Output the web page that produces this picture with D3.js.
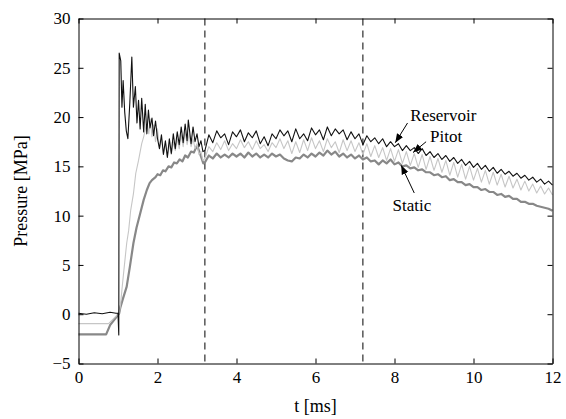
<!DOCTYPE html>
<html>
<head>
<meta charset="utf-8">
<script src="https://cdn.jsdelivr.net/npm/d3@7"></script>
<style>
  body { margin: 0; background: #fff; }
  svg { display: block; }
  svg text { font-family: "Liberation Serif", "Times New Roman", serif; }
</style>
</head>
<body>
<svg id="chart" width="566" height="419"></svg>
<script>
/* Data: [time in ms, pressure in MPa] */
const reservoir = [
  [0,0.1],[0.2,0.0],[0.4,0.15],[0.6,0.05],[0.8,0.2],[0.95,0.1],[1.0,0.1],[1.02,-2.1],[1.03,26.5],
  [1.07,25.7],[1.10,21.0],[1.13,23.7],[1.17,20.5],[1.21,18.6],[1.25,17.8],[1.30,21.5],[1.35,26.1],
  [1.39,21.0],[1.44,23.1],[1.48,19.4],[1.52,21.7],[1.56,18.8],[1.60,21.9],[1.65,18.5],[1.69,21.3],
  [1.73,18.3],[1.77,20.7],[1.81,18.9],[1.86,19.9],[1.90,18.1],[1.95,19.6],[2.00,17.8],[2.05,16.8],
  [2.10,18.2],[2.15,16.2],[2.20,17.6],[2.25,15.9],[2.30,17.8],[2.35,16.3],[2.40,18.3],[2.45,16.8],
  [2.50,18.5],[2.55,17.2],[2.60,19.0],[2.65,17.4],[2.70,19.3],[2.75,17.6],[2.78,19.7],[2.85,17.3],
  [2.90,19.0],[2.95,17.5],[3.00,18.3],[3.05,17.0],[3.10,17.6],[3.15,16.5],
  [3.2,16.6],[3.3,18.2],[3.4,17.4],[3.5,18.6],[3.6,17.9],[3.7,18.3],[3.8,17.2],[3.9,18.5],
  [4.0,18.0],[4.1,18.7],[4.2,17.5],[4.3,18.4],[4.4,17.9],[4.5,18.6],[4.6,17.3],[4.7,18.0],
  [4.8,17.1],[4.9,18.3],[5.0,17.8],[5.1,18.7],[5.2,18.1],[5.3,18.6],[5.4,17.5],[5.5,18.8],
  [5.6,17.8],[5.7,18.3],[5.8,17.6],[5.9,18.9],[6.0,18.2],[6.1,18.7],[6.2,17.7],[6.3,19.0],
  [6.4,18.1],[6.5,18.8],[6.6,18.3],[6.7,18.7],[6.8,17.7],[6.9,18.5],[7.0,17.8],[7.1,18.3],
  [7.2,17.2],[7.3,18.1],[7.4,17.5],[7.5,17.9],[7.6,17.3],[7.7,17.8],[7.8,17.0],[7.9,17.5],
  [8.0,17.0],[8.1,17.3],[8.2,16.6],[8.3,17.1],[8.4,16.6],[8.5,16.9],[8.6,16.3],[8.7,16.8],
  [8.8,16.1],[8.9,16.5],[9.0,15.9],[9.1,16.3],[9.2,15.7],[9.3,16.1],[9.4,15.5],[9.5,15.9],
  [9.6,15.3],[9.7,15.7],[9.8,15.1],[9.9,15.5],[10.0,14.9],[10.1,15.3],[10.2,14.7],[10.3,15.1],
  [10.4,14.5],[10.5,14.9],[10.6,14.3],[10.7,14.7],[10.8,14.2],[10.9,14.5],[11.0,14.0],[11.1,14.3],
  [11.2,13.8],[11.3,14.1],[11.4,13.6],[11.5,13.9],[11.6,13.4],[11.7,13.7],[11.8,13.2],[11.9,13.5],
  [12.0,13.1]
];

const pitot = [
  [0,-0.95],[0.4,-0.95],[0.76,-0.95],[0.9,-0.4],[1.03,0.1],[1.06,0.8],[1.1,2.5],[1.15,4.5],
  [1.22,7.2],[1.27,8.5],[1.32,10.5],[1.39,12.2],[1.45,14.3],[1.52,15.6],[1.60,17.3],[1.65,18.0],
  [1.70,18.9],[1.74,19.4],[1.78,18.3],[1.82,19.8],[1.86,18.0],[1.90,19.2],[1.95,17.5],[2.00,18.8],
  [2.05,16.8],[2.10,17.8],[2.15,16.3],[2.20,17.4],[2.25,16.0],[2.30,17.2],[2.35,16.2],[2.40,17.5],
  [2.45,16.6],[2.50,17.8],[2.55,16.8],[2.60,18.2],[2.65,17.0],[2.70,18.5],[2.75,17.2],[2.80,18.3],
  [2.85,17.0],[2.90,17.8],[2.95,16.8],[3.00,17.3],[3.05,16.2],[3.10,16.5],[3.15,15.6],
  [3.2,15.8],[3.3,17.0],[3.4,16.5],[3.5,17.4],[3.6,16.7],[3.7,17.6],[3.8,16.6],[3.9,17.3],
  [4.0,16.8],[4.1,17.7],[4.2,16.9],[4.3,17.5],[4.4,16.7],[4.5,17.6],[4.6,16.8],[4.7,17.2],
  [4.8,16.5],[4.9,17.4],[5.0,16.9],[5.1,17.8],[5.2,16.8],[5.3,17.6],[5.4,16.3],[5.5,17.5],
  [5.6,16.4],[5.7,17.7],[5.8,16.6],[5.9,17.9],[6.0,16.8],[6.1,17.6],[6.2,16.5],[6.3,17.8],
  [6.4,16.9],[6.5,17.5],[6.6,16.4],[6.7,17.7],[6.8,16.6],[6.9,17.6],[7.0,16.5],[7.1,17.4],
  [7.2,16.2],[7.3,17.3],[7.4,16.0],[7.5,17.1],[7.6,15.9],[7.7,16.9],[7.8,15.6],[7.9,16.8],
  [8.0,15.5],[8.1,16.7],[8.2,15.3],[8.3,16.5],[8.4,15.1],[8.5,16.3],[8.6,14.9],[8.7,16.2],
  [8.8,14.7],[8.9,16.0],[9.0,14.6],[9.1,15.8],[9.2,14.4],[9.3,15.6],[9.4,14.1],[9.5,15.4],
  [9.6,13.9],[9.7,15.2],[9.8,13.7],[9.9,15.0],[10.0,13.6],[10.1,14.8],[10.2,13.4],[10.3,14.6],
  [10.4,13.2],[10.5,14.4],[10.6,13.1],[10.7,14.2],[10.8,12.9],[10.9,14.0],[11.0,12.8],[11.1,13.7],
  [11.2,12.6],[11.3,13.5],[11.4,12.5],[11.5,13.2],[11.6,12.3],[11.7,13.0],[11.8,12.2],[11.9,12.8],
  [12.0,12.1]
];

const staticP = [
  [0,-2.05],[0.4,-2.05],[0.70,-2.05],[0.80,-1.1],[0.92,-0.5],[1.03,0.1],[1.06,0.7],[1.12,1.5],
  [1.22,2.8],[1.30,4.8],[1.39,7.2],[1.47,8.8],[1.56,10.2],[1.65,11.6],[1.73,12.6],[1.80,13.3],
  [1.86,13.6],[1.95,13.9],[2.00,14.2],[2.07,14.1],[2.14,14.6],[2.20,14.5],[2.28,15.0],[2.35,14.9],
  [2.42,15.4],[2.49,15.3],[2.56,15.7],[2.63,15.5],[2.70,16.1],[2.77,15.9],[2.85,16.5],[2.92,16.4],
  [3.00,17.1],[3.05,16.6],[3.10,16.0],[3.16,15.3],
  [3.2,15.4],[3.3,16.1],[3.4,15.8],[3.5,16.3],[3.6,15.9],[3.7,16.2],[3.8,15.9],[3.9,16.3],
  [4.0,16.0],[4.1,16.3],[4.2,15.9],[4.3,16.4],[4.4,16.0],[4.5,16.3],[4.6,15.9],[4.7,16.2],
  [4.8,15.9],[4.9,16.3],[5.0,16.0],[5.1,16.2],[5.2,15.8],[5.3,15.6],[5.4,15.5],[5.5,15.9],
  [5.6,15.8],[5.7,16.2],[5.8,15.9],[5.9,16.3],[6.0,16.0],[6.1,16.4],[6.2,16.1],[6.3,16.6],
  [6.4,16.2],[6.5,16.5],[6.6,16.0],[6.7,16.3],[6.8,15.9],[6.9,16.2],[7.0,15.8],[7.1,16.1],
  [7.2,15.7],[7.3,15.9],[7.4,15.5],[7.5,15.6],[7.6,15.2],[7.7,15.6],[7.8,15.3],[7.9,15.7],
  [8.0,15.2],[8.1,15.4],[8.2,15.0],[8.3,15.1],[8.4,14.8],[8.5,14.9],[8.6,14.6],[8.7,14.7],
  [8.8,14.4],[8.9,14.4],[9.0,14.1],[9.1,14.2],[9.2,13.9],[9.3,14.0],[9.4,13.6],[9.5,13.7],
  [9.6,13.4],[9.7,13.4],[9.8,13.1],[9.9,13.2],[10.0,12.9],[10.1,12.9],[10.2,12.6],[10.3,12.7],
  [10.4,12.4],[10.5,12.4],[10.6,12.1],[10.7,12.2],[10.8,11.9],[10.9,12.0],[11.0,11.7],[11.1,11.7],
  [11.2,11.4],[11.3,11.4],[11.4,11.2],[11.5,11.2],[11.6,11.0],[11.7,10.9],[11.8,10.8],[11.9,10.7],
  [12.0,10.5]
];

const xTicks = [0, 2, 4, 6, 8, 10, 12];
const yTicks = [-5, 0, 5, 10, 15, 20, 25, 30];
const windowLines = [3.2, 7.2];

/* Labels: text anchor point and arrow tail/tip, in data units */
const labels = [
  { text: "Reservoir", at: [8.4, 19.6], from: [8.33, 19.4], to: [8.02, 17.4] },
  { text: "Pitot",     at: [8.9, 17.5], from: [8.8, 17.5], to: [8.47, 16.4] },
  { text: "Static",    at: [7.95, 10.5], from: [8.5, 12.3], to: [8.17, 15.1] }
];

/* Dimensions */
const margin = { top: 18, right: 14, bottom: 56, left: 78 };
const width = 566 - margin.left - margin.right;
const height = 419 - margin.top - margin.bottom;

const svg = d3.select("#chart");
const g = svg.append("g")
    .attr("transform", `translate(${margin.left + 0.5},${margin.top + 0.5})`);

/* Scales */
const x = d3.scaleLinear().domain([0, 12]).range([0, width]);
const y = d3.scaleLinear().domain([-5, 30]).range([height, 0]);

/* Dashed test-window lines */
g.selectAll(".window")
  .data(windowLines)
  .join("line")
    .attr("x1", d => x(d)).attr("x2", d => x(d))
    .attr("y1", 0).attr("y2", height)
    .attr("stroke", "#000")
    .attr("stroke-width", 1)
    .attr("stroke-dasharray", "7,5");

/* Traces */
const line = d3.line().x(d => x(d[0])).y(d => y(d[1]));

g.append("path").datum(staticP)
    .attr("fill", "none").attr("stroke", "#888").attr("stroke-width", 2.2)
    .attr("stroke-linejoin", "round").attr("d", line);
g.append("path").datum(pitot)
    .attr("fill", "none").attr("stroke", "#c6c6c6").attr("stroke-width", 1.1)
    .attr("stroke-linejoin", "round").attr("d", line);
g.append("path").datum(reservoir)
    .attr("fill", "none").attr("stroke", "#111").attr("stroke-width", 1.1)
    .attr("stroke-linejoin", "round").attr("d", line);

/* Axes (box with inward ticks) */
g.append("g")
    .attr("transform", `translate(0,${height})`)
    .call(d3.axisBottom(x).tickValues(xTicks).tickSize(-5).tickSizeOuter(0).tickPadding(7));
g.append("g")
    .call(d3.axisLeft(y).tickValues(yTicks).tickSize(-5).tickSizeOuter(0).tickPadding(8));
g.append("g")
    .call(d3.axisTop(x).tickValues(xTicks).tickSize(-5).tickSizeOuter(0).tickFormat(""));
g.append("g")
    .attr("transform", `translate(${width},0)`)
    .call(d3.axisRight(y).tickValues(yTicks).tickSize(-5).tickSizeOuter(0).tickFormat(""));

g.selectAll(".domain").attr("stroke", "#000").attr("stroke-width", 1);
g.selectAll(".tick line").attr("stroke", "#000");
g.selectAll(".tick text").attr("fill", "#000").style("font-size", "17px");

/* Axis titles */
g.append("text")
    .attr("x", width / 2)
    .attr("y", height + 48)
    .attr("text-anchor", "middle")
    .style("font-size", "18px")
    .text("t [ms]");

g.append("text")
    .attr("transform", `translate(${-52},${height / 2}) rotate(-90)`)
    .attr("text-anchor", "middle")
    .style("font-size", "18px")
    .text("Pressure [MPa]");

/* Annotations with arrows */
svg.append("defs").append("marker")
    .attr("id", "head")
    .attr("viewBox", "0 0 10 10")
    .attr("refX", 10).attr("refY", 5)
    .attr("markerWidth", 9).attr("markerHeight", 9)
    .attr("markerUnits", "userSpaceOnUse")
    .attr("orient", "auto")
  .append("path")
    .attr("d", "M0,1 L10,5 L0,9 Z")
    .attr("fill", "#000");

g.selectAll(".note-arrow")
  .data(labels)
  .join("line")
    .attr("x1", d => x(d.from[0])).attr("y1", d => y(d.from[1]))
    .attr("x2", d => x(d.to[0])).attr("y2", d => y(d.to[1]))
    .attr("stroke", "#000").attr("stroke-width", 1)
    .attr("marker-end", "url(#head)");

g.selectAll(".note")
  .data(labels)
  .join("text")
    .attr("x", d => x(d.at[0]))
    .attr("y", d => y(d.at[1]))
    .style("font-size", "17px")
    .text(d => d.text);
</script>
</body>
</html>
